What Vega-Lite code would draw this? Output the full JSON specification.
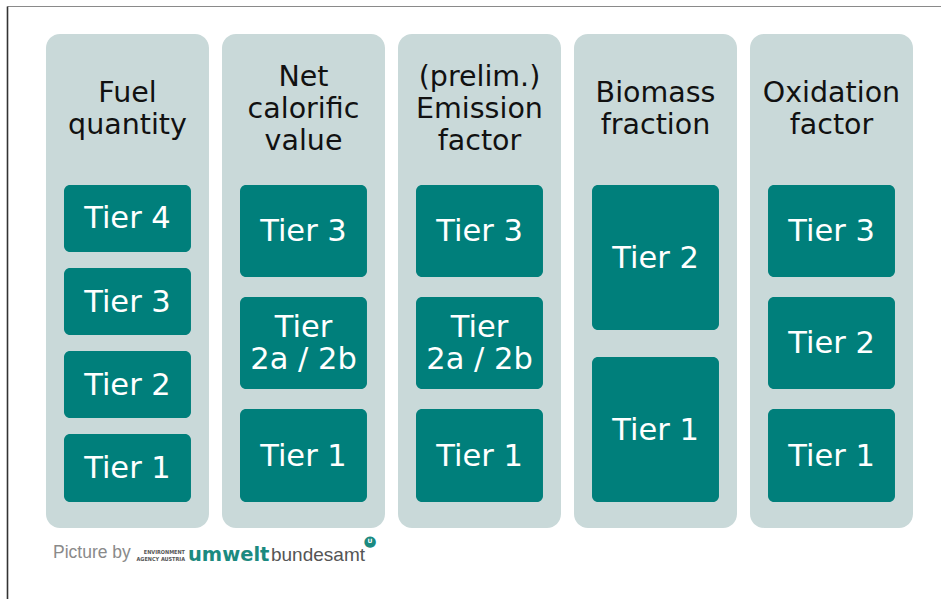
{
  "$schema": "https://vega.github.io/schema/vega-lite/v6.json",
  "width": 934,
  "height": 593,
  "padding": {"left": 7, "top": 6, "right": 0, "bottom": 0},
  "autosize": "none",
  "background": "white",
  "config": {"view": {"stroke": null}, "font": "DejaVu Sans"},
  "datasets": {
    "panels": [
      {"col": "Fuel quantity", "header": "Fuel\nquantity"},
      {"col": "Net calorific value", "header": "Net\ncalorific\nvalue"},
      {"col": "(prelim.) Emission factor", "header": "(prelim.)\nEmission\nfactor"},
      {"col": "Biomass fraction", "header": "Biomass\nfraction"},
      {"col": "Oxidation factor", "header": "Oxidation\nfactor"}
    ],
    "tiles": [
      {"col": "Fuel quantity", "label": "Tier 4", "lo": 9.464, "hi": 12},
      {"col": "Fuel quantity", "label": "Tier 3", "lo": 6.322, "hi": 8.858},
      {"col": "Fuel quantity", "label": "Tier 2", "lo": 3.18, "hi": 5.716},
      {"col": "Fuel quantity", "label": "Tier 1", "lo": 0, "hi": 2.574},
      {"col": "Net calorific value", "label": "Tier 3", "lo": 8.517, "hi": 12},
      {"col": "Net calorific value", "label": "Tier\n2a / 2b", "lo": 4.278, "hi": 7.76},
      {"col": "Net calorific value", "label": "Tier 1", "lo": 0, "hi": 3.52},
      {"col": "(prelim.) Emission factor", "label": "Tier 3", "lo": 8.517, "hi": 12},
      {"col": "(prelim.) Emission factor", "label": "Tier\n2a / 2b", "lo": 4.278, "hi": 7.76},
      {"col": "(prelim.) Emission factor", "label": "Tier 1", "lo": 0, "hi": 3.52},
      {"col": "Biomass fraction", "label": "Tier 2", "lo": 6.511, "hi": 12},
      {"col": "Biomass fraction", "label": "Tier 1", "lo": 0, "hi": 5.489},
      {"col": "Oxidation factor", "label": "Tier 3", "lo": 8.517, "hi": 12},
      {"col": "Oxidation factor", "label": "Tier 2", "lo": 4.278, "hi": 7.76},
      {"col": "Oxidation factor", "label": "Tier 1", "lo": 0, "hi": 3.52}
    ],
    "footer": [
      {"col": "Fuel quantity"}
    ]
  },
  "layer": [
    {
      "data": {"name": "panels"},
      "mark": {"type": "bar", "cornerRadius": 14, "color": "#c9d9d9"},
      "encoding": {
        "x": {
          "field": "col", "type": "nominal", "sort": null,
          "scale": {"type": "band", "paddingInner": 0.0739, "paddingOuter": 0.1903, "align": 0.582},
          "axis": {"orient": "top", "labels": false, "ticks": false, "title": null, "grid": false, "domainColor": "#8a8a8a", "domainWidth": 1.2}
        },
        "y": {
          "datum": -0.984, "type": "quantitative",
          "scale": {"domain": [-3.672, 18.776], "nice": false, "zero": false},
          "axis": {"orient": "left", "labels": false, "ticks": false, "title": null, "grid": false, "domainColor": "#333333", "domainWidth": 1.6}
        },
        "y2": {"datum": 17.716}
      }
    },
    {
      "data": {"name": "panels"},
      "transform": [{"calculate": "14.877 + (length(split(datum.header, '\\n')) - 1) * 16 / 26.4167", "as": "ytop"}],
      "mark": {"type": "text", "fontSize": 28.5, "lineHeight": 32, "color": "#111111", "baseline": "middle", "align": "center", "lineBreak": "\n"},
      "encoding": {
        "x": {"field": "col", "type": "nominal", "sort": null},
        "y": {"field": "ytop", "type": "quantitative"},
        "text": {"field": "header"}
      }
    },
    {
      "data": {"name": "tiles"},
      "mark": {"type": "bar", "cornerRadius": 6, "color": "#007f7b", "width": {"band": 0.779}},
      "encoding": {
        "x": {"field": "col", "type": "nominal", "sort": null},
        "y": {"field": "lo", "type": "quantitative"},
        "y2": {"field": "hi"}
      }
    },
    {
      "data": {"name": "tiles"},
      "transform": [{"calculate": "(datum.lo + datum.hi) / 2 - 0.038 + (length(split(datum.label, '\\n')) - 1) * 16 / 26.4167", "as": "ytop"}],
      "mark": {"type": "text", "fontSize": 30.5, "lineHeight": 32, "color": "white", "baseline": "middle", "align": "center", "lineBreak": "\n"},
      "encoding": {
        "x": {"field": "col", "type": "nominal", "sort": null},
        "y": {"field": "ytop", "type": "quantitative"},
        "text": {"field": "label"}
      }
    },
    {
      "data": {"name": "footer"},
      "mark": {"type": "text", "text": "Picture by", "font": "Liberation Sans", "fontSize": 17.5, "color": "#8a8a8a", "align": "left", "baseline": "middle", "dx": 7},
      "encoding": {
        "x": {"field": "col", "type": "nominal", "sort": null, "bandPosition": 0},
        "y": {"datum": -1.93, "type": "quantitative"}
      }
    },
    {
      "data": {"name": "footer"},
      "mark": {"type": "text", "text": "ENVIRONMENT", "font": "DejaVu Sans Condensed", "fontWeight": "bold", "fontSize": 5.5, "color": "#555555", "align": "right", "baseline": "middle", "dx": 139},
      "encoding": {
        "x": {"field": "col", "type": "nominal", "sort": null, "bandPosition": 0},
        "y": {"datum": -1.89, "type": "quantitative"}
      }
    },
    {
      "data": {"name": "footer"},
      "mark": {"type": "text", "text": "AGENCY AUSTRIA", "font": "DejaVu Sans Condensed", "fontWeight": "bold", "fontSize": 5.5, "color": "#555555", "align": "right", "baseline": "middle", "dx": 139},
      "encoding": {
        "x": {"field": "col", "type": "nominal", "sort": null, "bandPosition": 0},
        "y": {"datum": -2.17, "type": "quantitative"}
      }
    },
    {
      "data": {"name": "footer"},
      "mark": {"type": "text", "text": "umwelt", "font": "DejaVu Sans", "fontWeight": "bold", "fontSize": 19.5, "color": "#1b8a80", "align": "left", "baseline": "alphabetic", "dx": 142},
      "encoding": {
        "x": {"field": "col", "type": "nominal", "sort": null, "bandPosition": 0},
        "y": {"datum": -2.233, "type": "quantitative"}
      }
    },
    {
      "data": {"name": "footer"},
      "mark": {"type": "text", "text": "bundesamt", "font": "Liberation Sans", "fontSize": 19, "color": "#555555", "align": "left", "baseline": "alphabetic", "dx": 225},
      "encoding": {
        "x": {"field": "col", "type": "nominal", "sort": null, "bandPosition": 0},
        "y": {"datum": -2.233, "type": "quantitative"}
      }
    },
    {
      "data": {"name": "footer"},
      "mark": {"type": "text", "text": "●", "font": "DejaVu Sans", "fontSize": 15, "color": "#1b8a80", "align": "center", "baseline": "middle", "dx": 324},
      "encoding": {
        "x": {"field": "col", "type": "nominal", "sort": null, "bandPosition": 0},
        "y": {"datum": -1.48, "type": "quantitative"}
      }
    },
    {
      "data": {"name": "footer"},
      "mark": {"type": "text", "text": "U", "font": "DejaVu Sans", "fontWeight": "bold", "fontSize": 6, "color": "white", "align": "center", "baseline": "middle", "dx": 324},
      "encoding": {
        "x": {"field": "col", "type": "nominal", "sort": null, "bandPosition": 0},
        "y": {"datum": -1.48, "type": "quantitative"}
      }
    }
  ]
}
